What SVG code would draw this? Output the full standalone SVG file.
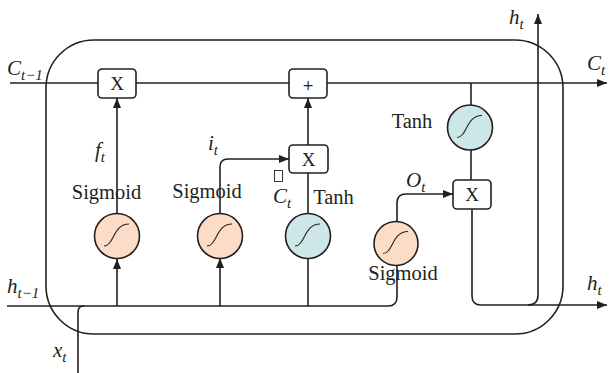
<svg xmlns="http://www.w3.org/2000/svg" width="609" height="373" viewBox="0 0 609 373">
<style>
.ln{fill:none;stroke:#231f20;stroke-width:1.6}
.box{fill:#fff;stroke:#231f20;stroke-width:1.6}
.sig{fill:#fcdcc7;stroke:#231f20;stroke-width:1.6}
.tanh{fill:#cde7e8;stroke:#231f20;stroke-width:1.6}
.curve{fill:none;stroke:#231f20;stroke-width:1.1}
.t{font-family:"Liberation Serif","Times New Roman",serif;fill:#231f20}
.lbl{font-family:"Liberation Serif","Times New Roman",serif;font-style:italic;fill:#231f20;font-size:21px}
.sub{font-size:15px}
.op{font-size:19px;text-anchor:middle}
.name{font-size:20.5px;text-anchor:middle}
</style>
<defs>
<marker id="ah" markerUnits="userSpaceOnUse" markerWidth="10" markerHeight="10" viewBox="0 0 10 10" refX="10" refY="5" orient="auto">
<path d="M0,1 L10,5 L0,9 Z" fill="#231f20"/>
</marker>
<path id="s" d="M-13,10 C-3,10 -4,-12 12,-12"/>
</defs>
<rect class="ln" x="46" y="40" width="517" height="294" rx="48"/>
<g id="connectors">
<path class="ln" d="M10,83 H607" marker-end="url(#ah)"/>
<path class="ln" d="M7,306 H388 Q397,306 397,297 V265"/>
<path class="ln" d="M78,373 V312 Q78,306 84,306"/>
<path class="ln" d="M117,306 V259" marker-end="url(#ah)"/>
<path class="ln" d="M117,214 V98" marker-end="url(#ah)"/>
<path class="ln" d="M220,306 V258" marker-end="url(#ah)"/>
<path class="ln" d="M220,214 V167 Q220,159 228,159 H289" marker-end="url(#ah)"/>
<path class="ln" d="M308,306 V258"/>
<path class="ln" d="M308,214 V173"/>
<path class="ln" d="M308,145 V98" marker-end="url(#ah)"/>
<path class="ln" d="M397,221 V203 Q397,194 406,194 H453" marker-end="url(#ah)"/>
<path class="ln" d="M471,83 V105"/>
<path class="ln" d="M471,150 V180"/>
<path class="ln" d="M472,209 V296 Q472,305 481,305 H607" marker-end="url(#ah)"/>
<path class="ln" d="M528,305 Q538,305 538,295 V14" marker-end="url(#ah)"/>
</g>
<g id="mul1"><rect class="box" x="98" y="69" width="38" height="29" rx="4"/><text class="t op" x="117" y="90">X</text></g>
<g id="add"><rect class="box" x="289" y="69" width="38" height="29" rx="4"/><text class="t op" x="308" y="89.5" style="font-family:'DejaVu Sans',sans-serif;font-size:14px">+</text></g>
<g id="mul2"><rect class="box" x="289" y="145" width="39" height="28" rx="4"/><text class="t op" x="308.5" y="165.5">X</text></g>
<g id="mul3"><rect class="box" x="453" y="180" width="38" height="29" rx="4"/><text class="t op" x="472" y="201">X</text></g>
<g id="sigF"><circle class="sig" cx="117" cy="236" r="22.5"/><use href="#s" class="curve" transform="translate(117,236)"/></g>
<g id="sigI"><circle class="sig" cx="220" cy="236" r="22.5"/><use href="#s" class="curve" transform="translate(220,236)"/></g>
<g id="tanhC"><circle class="tanh" cx="308" cy="236" r="22.5"/><use href="#s" class="curve" transform="translate(308,236)"/></g>
<g id="sigO"><circle class="sig" cx="396" cy="243.5" r="22"/><use href="#s" class="curve" transform="translate(396,243.5)"/></g>
<g id="tanhO"><circle class="tanh" cx="470" cy="127.5" r="22.5"/><use href="#s" class="curve" transform="translate(470,127.5)"/></g>
<g id="labels">
<text class="t name" x="106.5" y="199">Sigmoid</text>
<text class="t name" x="207" y="198">Sigmoid</text>
<text class="t name" x="403" y="280">Sigmoid</text>
<text class="t name" x="333.5" y="204">Tanh</text>
<text class="t name" x="412" y="128">Tanh</text>
<rect x="274.5" y="170.5" width="8" height="11" fill="none" stroke="#231f20" stroke-width="0.9"/>
<text class="lbl" x="7" y="75">C<tspan class="sub" dy="5">t−1</tspan></text>
<text class="lbl" x="587" y="70">C<tspan class="sub" dy="5">t</tspan></text>
<text class="lbl" x="509" y="24">h<tspan class="sub" dy="5">t</tspan></text>
<text class="lbl" x="7" y="293">h<tspan class="sub" dy="5">t−1</tspan></text>
<text class="lbl" x="587" y="290">h<tspan class="sub" dy="5">t</tspan></text>
<text class="lbl" x="53" y="357">x<tspan class="sub" dy="5">t</tspan></text>
<text class="lbl" x="95" y="157">f<tspan class="sub" dy="5">t</tspan></text>
<text class="lbl" x="208" y="150">i<tspan class="sub" dy="5">t</tspan></text>
<text class="lbl" x="273" y="203">C<tspan class="sub" dy="5">t</tspan></text>
<text class="lbl" x="406" y="187">O<tspan class="sub" dy="5">t</tspan></text>
</g>
</svg>
